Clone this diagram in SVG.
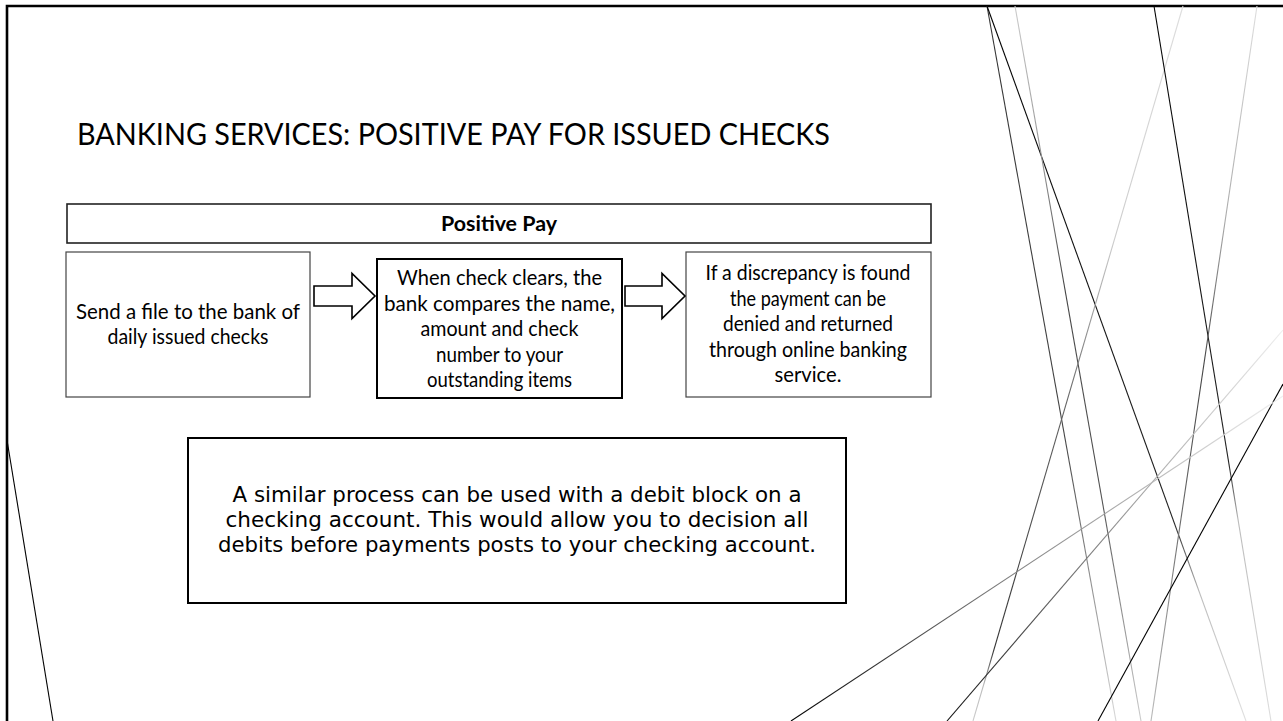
<svg xmlns="http://www.w3.org/2000/svg" width="1283" height="721" viewBox="0 0 1283 721">
  <style>
    .gs { font-family: Lato, "Open Sans", "Liberation Sans", sans-serif; fill: #000; }
    .body { font-size: 21px; text-anchor: middle; }
    .note { font-family: "DejaVu Sans Condensed", "DejaVu Sans", "Liberation Sans", sans-serif; font-stretch: condensed; font-size: 21.5px; text-anchor: middle; fill: #000; }
    .thin { fill: #fff; stroke: #444; stroke-width: 1.2; }
    .thick { fill: #fff; stroke: #000; stroke-width: 2; }
    .arrow { fill: #fff; stroke: #000; stroke-width: 1.6; stroke-linejoin: miter; }
    .deco { fill: none; stroke-width: 1.1; }
  </style>
  <defs>
    <linearGradient id="gL1" gradientUnits="userSpaceOnUse" x1="987" y1="6" x2="1116" y2="721">
      <stop offset="0" stop-color="#333"/><stop offset="0.6" stop-color="#444"/><stop offset="1" stop-color="#d8d8d8"/>
    </linearGradient>
    <linearGradient id="gL2" gradientUnits="userSpaceOnUse" x1="987" y1="6" x2="1246" y2="721">
      <stop offset="0" stop-color="#000"/><stop offset="0.72" stop-color="#222"/><stop offset="0.82" stop-color="#bbb"/><stop offset="1" stop-color="#e0e0e0"/>
    </linearGradient>
    <linearGradient id="gL3" gradientUnits="userSpaceOnUse" x1="1015" y1="6" x2="1141" y2="721">
      <stop offset="0" stop-color="#ccc"/><stop offset="0.25" stop-color="#888"/><stop offset="0.4" stop-color="#444"/><stop offset="0.7" stop-color="#555"/><stop offset="1" stop-color="#ccc"/>
    </linearGradient>
    <linearGradient id="gL4" gradientUnits="userSpaceOnUse" x1="1183" y1="6" x2="973" y2="721">
      <stop offset="0" stop-color="#ddd"/><stop offset="0.33" stop-color="#ccc"/><stop offset="0.55" stop-color="#666"/><stop offset="0.9" stop-color="#333"/><stop offset="0.95" stop-color="#bbb"/><stop offset="1" stop-color="#ccc"/>
    </linearGradient>
    <linearGradient id="gL5" gradientUnits="userSpaceOnUse" x1="1154" y1="6" x2="1271" y2="721">
      <stop offset="0" stop-color="#000"/><stop offset="0.64" stop-color="#222"/><stop offset="0.72" stop-color="#bbb"/><stop offset="1" stop-color="#ddd"/>
    </linearGradient>
    <linearGradient id="gL6" gradientUnits="userSpaceOnUse" x1="1257" y1="6" x2="1151" y2="721">
      <stop offset="0" stop-color="#ddd"/><stop offset="0.3" stop-color="#aaa"/><stop offset="0.5" stop-color="#444"/><stop offset="0.7" stop-color="#666"/><stop offset="1" stop-color="#bbb"/>
    </linearGradient>
    <linearGradient id="gG1" gradientUnits="userSpaceOnUse" x1="1283" y1="396" x2="791" y2="721">
      <stop offset="0" stop-color="#f0f0f0"/><stop offset="0.25" stop-color="#bbb"/><stop offset="0.6" stop-color="#777"/><stop offset="1" stop-color="#000"/>
    </linearGradient>
    <linearGradient id="gG2" gradientUnits="userSpaceOnUse" x1="1283" y1="330" x2="947" y2="721">
      <stop offset="0" stop-color="#eee"/><stop offset="0.4" stop-color="#aaa"/><stop offset="0.6" stop-color="#777"/><stop offset="1" stop-color="#111"/>
    </linearGradient>
  </defs>

  <rect x="0" y="0" width="1283" height="721" fill="#fff"/>

  <g id="background-decoration">
    <path d="M7,721 L7,6 L1283,6" fill="none" stroke="#000" stroke-width="2.6"/>
    <line class="deco" x1="7" y1="440" x2="53" y2="721" stroke="#000"/>
    <line class="deco" x1="987" y1="6" x2="1116" y2="721" stroke="url(#gL1)"/>
    <line class="deco" x1="987" y1="6" x2="1246" y2="721" stroke="url(#gL2)"/>
    <line class="deco" x1="1015" y1="6" x2="1141" y2="721" stroke="url(#gL3)"/>
    <line class="deco" x1="1183" y1="6" x2="973" y2="721" stroke="url(#gL4)"/>
    <line class="deco" x1="1154" y1="6" x2="1271" y2="721" stroke="url(#gL5)"/>
    <line class="deco" x1="1257" y1="6" x2="1151" y2="721" stroke="url(#gL6)"/>
    <line class="deco" x1="1283" y1="384" x2="1098" y2="721" stroke="#000"/>
    <line class="deco" x1="1283" y1="330" x2="947" y2="721" stroke="url(#gG2)"/>
    <line class="deco" x1="1283" y1="396" x2="791" y2="721" stroke="url(#gG1)"/>
  </g>

  <g id="title">
    <text class="gs" x="77" y="145" font-size="30" textLength="753" lengthAdjust="spacingAndGlyphs">BANKING SERVICES: POSITIVE PAY FOR ISSUED CHECKS</text>
  </g>

  <g id="node-header">
    <rect x="67" y="204" width="864" height="39" fill="#fff" stroke="#222" stroke-width="1.6"/>
    <text class="gs" x="499" y="231" font-size="20" font-weight="bold" text-anchor="middle" textLength="116" lengthAdjust="spacingAndGlyphs">Positive Pay</text>
  </g>

  <g id="node-send-file">
    <rect class="thin" x="66" y="252" width="244" height="145"/>
    <text class="gs body" x="188" y="318.5" textLength="224" lengthAdjust="spacingAndGlyphs">Send a file to the bank of</text>
    <text class="gs body" x="188" y="344" textLength="161" lengthAdjust="spacingAndGlyphs">daily issued checks</text>
  </g>

  <g id="node-compare">
    <rect class="thick" x="377" y="259" width="245" height="139"/>
    <text class="gs body" x="499.5" y="285" textLength="205" lengthAdjust="spacingAndGlyphs">When check clears, the</text>
    <text class="gs body" x="499.5" y="310.5" textLength="231" lengthAdjust="spacingAndGlyphs">bank compares the name,</text>
    <text class="gs body" x="499.5" y="336" textLength="158" lengthAdjust="spacingAndGlyphs">amount and check</text>
    <text class="gs body" x="499.5" y="361.5" textLength="127" lengthAdjust="spacingAndGlyphs">number to your</text>
    <text class="gs body" x="499.5" y="387" textLength="145" lengthAdjust="spacingAndGlyphs">outstanding items</text>
  </g>

  <g id="node-discrepancy">
    <rect class="thin" x="686" y="252" width="245" height="145"/>
    <text class="gs body" x="808" y="280" textLength="205" lengthAdjust="spacingAndGlyphs">If a discrepancy is found</text>
    <text class="gs body" x="808" y="305.5" textLength="156" lengthAdjust="spacingAndGlyphs">the payment can be</text>
    <text class="gs body" x="808" y="331" textLength="170" lengthAdjust="spacingAndGlyphs">denied and returned</text>
    <text class="gs body" x="808" y="356.5" textLength="198" lengthAdjust="spacingAndGlyphs">through online banking</text>
    <text class="gs body" x="808" y="382" textLength="67" lengthAdjust="spacingAndGlyphs">service.</text>
  </g>

  <g id="node-note">
    <rect class="thick" x="188" y="438" width="658" height="165"/>
    <text class="note" x="517" y="502" textLength="569" lengthAdjust="spacingAndGlyphs">A similar process can be used with a debit block on a</text>
    <text class="note" x="517" y="527" textLength="583" lengthAdjust="spacingAndGlyphs">checking account. This would allow you to decision all</text>
    <text class="note" x="517" y="552" textLength="598" lengthAdjust="spacingAndGlyphs">debits before payments posts to your checking account.</text>
  </g>

  <g id="connectors">
    <path class="arrow" d="M314,286 L352,286 L352,273.5 L375,296 L352,318.5 L352,306 L314,306 Z"/>
    <path class="arrow" d="M625,286 L662,286 L662,273.5 L685,296 L662,318.5 L662,306 L625,306 Z"/>
  </g>
</svg>
